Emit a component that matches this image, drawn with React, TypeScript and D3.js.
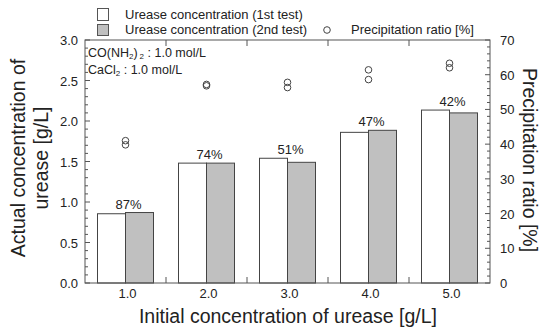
import React from "react";
import * as d3 from "d3";

const categories = ["1.0", "2.0", "3.0", "4.0", "5.0"];
const test1 = [0.855, 1.48, 1.54, 1.86, 2.135];
const test2 = [0.87, 1.48, 1.49, 1.885, 2.1];
const ratioA = [41.0, 57.2, 57.8, 61.4, 63.3];
const ratioB = [39.8, 56.8, 56.3, 58.6, 62.0];
const pctLabels = ["87%", "74%", "51%", "47%", "42%"];
const leftTicks = [0, 0.5, 1.0, 1.5, 2.0, 2.5, 3.0];
const rightTicks = [0, 10, 20, 30, 40, 50, 60, 70];

const W = 550, H = 336;
const L = 85, R = 490, T = 40, B = 283;
const FONT = "'Liberation Sans', Arial, sans-serif";
const AX = "#555";
const TX = "#222";

export default function App() {
  const x = d3.scaleBand<string>().domain(categories).range([L, R]);
  const yL = d3.scaleLinear().domain([0, 3]).range([B, T]);
  const yR = d3.scaleLinear().domain([0, 70]).range([B, T]);
  const bw = 28;
  const minorL = d3.range(0, 3.0001, 0.1);
  const minorR = d3.range(0, 70.001, 2);
  const bounds = categories.slice(1).map((c) => x(c)!);

  return (
    <svg width={W} height={H} style={{ position: "absolute", left: 0, top: 0, background: "#fff" }} fontFamily={FONT}>
      {/* bars */}
      {categories.map((c, i) => {
        const cx = x(c)! + x.bandwidth() / 2;
        const top = Math.min(yL(test1[i]), yL(test2[i]));
        return (
          <g key={c}>
            <rect x={cx - bw} y={yL(test1[i])} width={bw} height={B - yL(test1[i])} fill="#fff" stroke="#444" strokeWidth={1} />
            <rect x={cx} y={yL(test2[i])} width={bw} height={B - yL(test2[i])} fill="#c0c0c0" stroke="#444" strokeWidth={1} />
            <text x={cx + 3} y={top - 4} textAnchor="middle" fontSize={13} fill={TX}>{pctLabels[i]}</text>
            <circle cx={cx} cy={yR(ratioA[i])} r={3.3} fill="none" stroke="#444" strokeWidth={1} />
            <circle cx={cx} cy={yR(ratioB[i])} r={3.3} fill="none" stroke="#444" strokeWidth={1} />
          </g>
        );
      })}
      {/* frame */}
      <rect x={L} y={T} width={R - L} height={B - T} fill="none" stroke={AX} strokeWidth={1} />
      {/* left ticks */}
      {minorL.map((v, i) => (
        <line key={"lm" + i} x1={L} x2={L + (i % 5 === 0 ? 5 : 3)} y1={yL(v)} y2={yL(v)} stroke={AX} />
      ))}
      {leftTicks.map((v) => (
        <text key={"lt" + v} x={78} y={yL(v) + 5} textAnchor="end" fontSize={13} fill={TX}>{v.toFixed(1)}</text>
      ))}
      {/* right ticks */}
      {minorR.map((v, i) => (
        <line key={"rm" + i} x1={R} x2={R - (i % 5 === 0 ? 5 : 3)} y1={yR(v)} y2={yR(v)} stroke={AX} />
      ))}
      {rightTicks.map((v) => (
        <text key={"rt" + v} x={500} y={yR(v) + 5} textAnchor="start" fontSize={13} fill={TX}>{v}</text>
      ))}
      {/* top/bottom ticks at band boundaries */}
      {bounds.map((bx, i) => (
        <g key={"b" + i}>
          <line x1={bx} x2={bx} y1={B} y2={B - 6} stroke={AX} />
          <line x1={bx} x2={bx} y1={T} y2={T + 6} stroke={AX} />
        </g>
      ))}
      {categories.map((c) => (
        <text key={"xl" + c} x={x(c)! + x.bandwidth() / 2 + 2} y={298} textAnchor="middle" fontSize={13} fill={TX}>{c}</text>
      ))}
      {/* axis titles */}
      <text x={288} y={323} textAnchor="middle" fontSize={19.5} fill={TX}>Initial concentration of urease [g/L]</text>
      <text transform="translate(25,158) rotate(-90)" textAnchor="middle" fontSize={19.5} fill={TX}>Actual concentration of</text>
      <text transform="translate(48,158) rotate(-90)" textAnchor="middle" fontSize={19.5} fill={TX}>urease [g/L]</text>
      <text transform="translate(523,160) rotate(90)" textAnchor="middle" fontSize={19.5} fill={TX}>Precipitation ratio [%]</text>
      {/* annotations */}
      <text x={88} y={57} fontSize={12.5} fill={TX}>
        CO(NH<tspan fontSize={8} dy={2}>2</tspan><tspan dy={-2}>)</tspan><tspan fontSize={8} dx={2} dy={2}>2</tspan><tspan dy={-2}> : 1.0 mol/L</tspan>
      </text>
      <text x={88} y={74} fontSize={12.5} fill={TX}>
        CaCl<tspan fontSize={8} dy={2}>2</tspan><tspan dy={-2}> : 1.0 mol/L</tspan>
      </text>
      {/* legend */}
      <rect x={97.5} y={8.5} width={11} height={12} fill="#fff" stroke="#555" />
      <text x={125} y={19} fontSize={13} fill={TX}>Urease concentration (1st test)</text>
      <rect x={97.5} y={24.5} width={11} height={11} fill="#c0c0c0" stroke="#555" />
      <text x={125} y={34} fontSize={13} fill={TX}>Urease concentration (2nd test)</text>
      <circle cx={327} cy={30} r={3.3} fill="none" stroke="#444" />
      <text x={351} y={34} fontSize={13} fill={TX}>Precipitation ratio [%]</text>
    </svg>
  );
}
